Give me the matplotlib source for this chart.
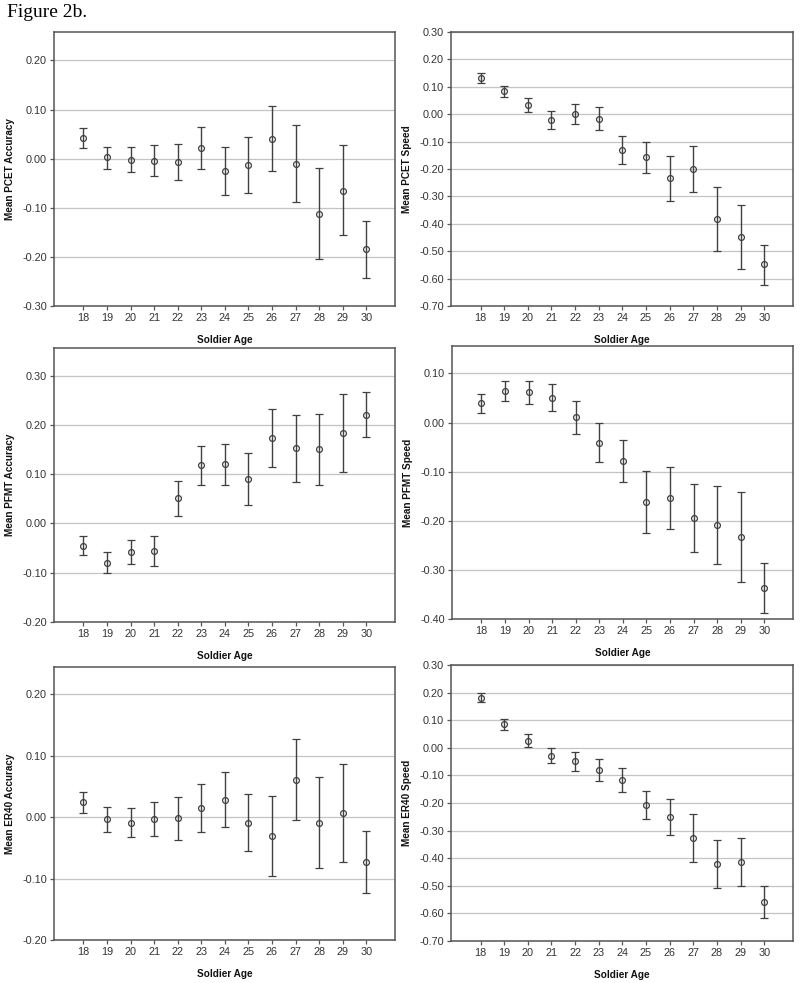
#!/usr/bin/env python

import numpy as np
import matplotlib.pyplot as plt

ages = [18, 19, 20, 21, 22, 23, 24, 25, 26, 27, 28, 29, 30]

# mean, lower CI, upper CI for each panel
pcet_acc = [0.043, 0.003, -0.002, -0.004, -0.007, 0.022, -0.025, -0.012, 0.041, -0.010, -0.112, -0.065, -0.184]
pcet_acc_lo = [0.022, -0.020, -0.028, -0.035, -0.044, -0.022, -0.074, -0.069, -0.026, -0.088, -0.204, -0.156, -0.243]
pcet_acc_hi = [0.063, 0.024, 0.024, 0.027, 0.030, 0.064, 0.024, 0.044, 0.108, 0.068, -0.018, 0.027, -0.126]

pcet_spd = [0.131, 0.083, 0.035, -0.022, 0.000, -0.016, -0.129, -0.158, -0.234, -0.200, -0.381, -0.448, -0.548]
pcet_spd_lo = [0.113, 0.064, 0.009, -0.054, -0.037, -0.058, -0.180, -0.215, -0.316, -0.284, -0.498, -0.565, -0.622]
pcet_spd_hi = [0.151, 0.103, 0.060, 0.010, 0.038, 0.027, -0.078, -0.101, -0.152, -0.116, -0.264, -0.330, -0.476]

pfmt_acc = [-0.045, -0.080, -0.058, -0.056, 0.052, 0.118, 0.120, 0.090, 0.174, 0.153, 0.151, 0.184, 0.220]
pfmt_acc_lo = [-0.064, -0.101, -0.082, -0.086, 0.016, 0.079, 0.077, 0.038, 0.114, 0.085, 0.079, 0.105, 0.175]
pfmt_acc_hi = [-0.026, -0.058, -0.033, -0.026, 0.086, 0.157, 0.162, 0.142, 0.233, 0.221, 0.223, 0.263, 0.267]

pfmt_spd = [0.040, 0.064, 0.062, 0.050, 0.011, -0.041, -0.078, -0.161, -0.154, -0.195, -0.209, -0.233, -0.336]
pfmt_spd_lo = [0.020, 0.044, 0.038, 0.023, -0.024, -0.081, -0.121, -0.225, -0.217, -0.263, -0.288, -0.324, -0.387]
pfmt_spd_hi = [0.059, 0.085, 0.085, 0.078, 0.045, -0.001, -0.035, -0.099, -0.090, -0.126, -0.130, -0.141, -0.286]

er40_acc = [0.024, -0.004, -0.009, -0.003, -0.002, 0.014, 0.028, -0.009, -0.031, 0.061, -0.009, 0.007, -0.073]
er40_acc_lo = [0.007, -0.024, -0.032, -0.031, -0.037, -0.024, -0.017, -0.056, -0.096, -0.005, -0.083, -0.073, -0.124]
er40_acc_hi = [0.041, 0.016, 0.015, 0.025, 0.033, 0.053, 0.073, 0.038, 0.034, 0.127, 0.065, 0.087, -0.022]

er40_spd = [0.182, 0.085, 0.026, -0.028, -0.049, -0.080, -0.116, -0.206, -0.250, -0.327, -0.421, -0.412, -0.560]
er40_spd_lo = [0.165, 0.066, 0.002, -0.056, -0.083, -0.120, -0.160, -0.257, -0.315, -0.415, -0.508, -0.500, -0.618]
er40_spd_hi = [0.198, 0.105, 0.049, 0.000, -0.015, -0.041, -0.073, -0.156, -0.185, -0.240, -0.334, -0.327, -0.500]

panels = [
    ('Mean PCET Accuracy', pcet_acc, pcet_acc_lo, pcet_acc_hi, (-0.30, 0.258), (-0.30, 0.20)),
    ('Mean PCET Speed', pcet_spd, pcet_spd_lo, pcet_spd_hi, (-0.70, 0.30), (-0.70, 0.30)),
    ('Mean PFMT Accuracy', pfmt_acc, pfmt_acc_lo, pfmt_acc_hi, (-0.20, 0.356), (-0.20, 0.30)),
    ('Mean PFMT Speed', pfmt_spd, pfmt_spd_lo, pfmt_spd_hi, (-0.40, 0.156), (-0.40, 0.10)),
    ('Mean ER40 Accuracy', er40_acc, er40_acc_lo, er40_acc_hi, (-0.20, 0.244), (-0.20, 0.20)),
    ('Mean ER40 Speed', er40_spd, er40_spd_lo, er40_spd_hi, (-0.70, 0.30), (-0.70, 0.30)),
]

# axes boxes in pixels: left, top, right, bottom
boxes = [
    (54, 32, 395, 306),
    (451, 32, 793, 306),
    (54, 348, 395, 622),
    (452, 346, 793, 619),
    (54, 667, 395, 940),
    (451, 665, 793, 941),
]

W, H = 800, 983
edge = '#555555'
dark = '#404040'

plt.rcParams['font.family'] = ['Liberation Sans', 'DejaVu Sans']

fig = plt.figure(figsize=(W / 100, H / 100), dpi=100)
fig.text(7 / W, 1 - 4 / H, 'Figure 2b.', family='Liberation Serif', fontsize=14,
         ha='left', va='top', color='black')

for (label, m, lo, hi, ylim, tick_rng), (l, t, r, b) in zip(panels, boxes):
    ax = fig.add_axes([l / W, 1 - b / H, (r - l) / W, (b - t) / H])
    m = np.array(m)
    yerr = [m - np.array(lo), np.array(hi) - m]
    ticks = np.round(np.arange(tick_rng[0], tick_rng[1] + 0.001, 0.1), 2) + 0.0
    for y in ticks:
        ax.axhline(y, color='#c4c4c4', lw=0.9, zorder=0)
    ax.errorbar(ages, m, yerr=yerr, fmt='o', mfc='none', mec=dark, mew=0.9,
                ms=4.2, ecolor=dark, elinewidth=1.0, capsize=2.6, capthick=1.0, zorder=3)
    ax.set_xlim(16.75, 31.22)
    ax.set_ylim(*ylim)
    ax.set_yticks(ticks)
    ax.set_yticklabels(['%.2f' % (v + 0.0) for v in ticks])
    ax.set_xticks(ages)
    ax.set_xticklabels([str(a) for a in ages])
    ax.tick_params(direction='out', length=3, width=0.9, color=edge,
                   labelsize=7.8, labelcolor='#333333', pad=2)
    for s in ax.spines.values():
        s.set_color(edge)
        s.set_linewidth(1.1)
    ax.set_ylabel(label, fontsize=7.2, fontweight='bold', color='#111111')
    ax.yaxis.set_label_coords(-0.114, 0.5)
    ax.set_xlabel('Soldier Age', fontsize=7.2, fontweight='bold', color='#111111')
    ax.xaxis.set_label_coords(0.5, -0.105)

fig.savefig('out.png', dpi=100)
